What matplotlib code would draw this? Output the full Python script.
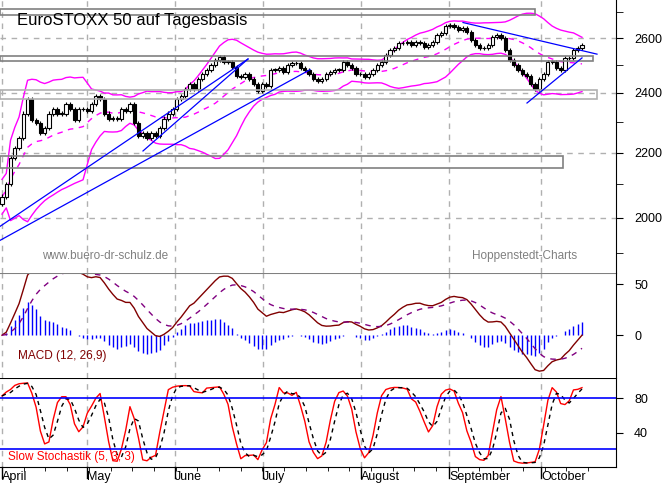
import numpy as np
import pandas as pd
import matplotlib
matplotlib.use("Agg")
import matplotlib.pyplot as plt
from matplotlib.ticker import FixedLocator, NullFormatter

plt.rcParams['font.family'] = ['Liberation Sans', 'DejaVu Sans']

closes = [2063, 2100, 2184, 2215, 2247, 2329, 2379, 2306, 2296, 2263, 2279, 2329, 2345, 2329, 2329,
          2362, 2345, 2306, 2345, 2345, 2339, 2362, 2389, 2379, 2329, 2312, 2312, 2312, 2345, 2339,
          2362, 2296, 2253, 2263, 2247, 2263, 2253, 2279, 2312, 2329, 2345, 2379, 2389, 2413, 2431,
          2413, 2448, 2466, 2483, 2501, 2519, 2530, 2512, 2512, 2494, 2459, 2455, 2466, 2448, 2431,
          2406, 2431, 2424, 2483, 2483, 2490, 2476, 2501, 2508, 2508, 2490, 2483, 2466, 2448, 2441,
          2448, 2466, 2476, 2483, 2483, 2512, 2501, 2490, 2466, 2466, 2455, 2466, 2483, 2501, 2512,
          2537, 2555, 2562, 2581, 2581, 2585, 2574, 2585, 2581, 2566, 2574, 2585, 2611, 2619, 2645,
          2649, 2642, 2630, 2638, 2623, 2592, 2574, 2562, 2562, 2574, 2604, 2611, 2600, 2555, 2519,
          2501, 2483, 2466, 2459, 2431, 2413, 2448, 2466, 2512, 2512, 2490, 2483, 2526, 2526, 2555,
          2562, 2574]
first_open = 2040
month_labels = ['April', 'May', 'June', 'July', 'August', 'September', 'October']
month_pix = [2, 87, 175, 263, 361, 449, 541]
price_ticks = [2000, 2200, 2400, 2600]
minor_price_ticks = [1900, 2100, 2300, 2500, 2700]
zones = [(2690, 2712, 535, '#808080'), (2515, 2533, 593, '#808080'),
         (2380, 2410, 597, '#b0b0b0'), (2150, 2190, 563, '#808080')]
trend_lines = [((0, 1975), (248, 2522)), ((143, 2205), (248, 2522)),
               ((0, 1935), (310, 2483)), ((463, 2660), (597, 2540)),
               ((527, 2365), (582, 2526))]

n = len(closes)
c = pd.Series(closes, dtype=float)
o = pd.Series([first_open] + closes[:-1], dtype=float)
hi_s = np.maximum(o, c) * 1.003
lo_s = np.minimum(o, c) * 0.997

W, H = 662, 486
fig = plt.figure(figsize=(W/100, H/100), dpi=100)
xr = 616
def rect(top, bot):
    return [0, 1 - bot/H, xr/W, (bot-top)/H]
ax = fig.add_axes(rect(0, 273))
am = fig.add_axes(rect(273, 378))
ast = fig.add_axes(rect(378, 467))

def figtext(x, y, s, **kw):
    fig.text(x / W, 1 - y / H, s, **kw)

dx = (582 - 2) / (n - 1)
def px2i(p):
    return (p - 2) / dx
xlim = (px2i(0), px2i(xr))
idx = np.arange(n)

# main
ax.set_yscale('log')
ax.set_ylim(1845, 2749)
ax.set_xlim(*xlim)
for i in idx:
    oo, cc = o[i], c[i]
    lo, hi = min(oo, cc), max(oo, cc)
    ax.vlines(i, lo_s[i], hi_s[i], color='black', lw=0.8, zorder=3)
    fc = 'white' if cc >= oo else 'black'
    ax.bar(i, max(hi - lo, 1), bottom=lo, width=0.75, facecolor=fc, edgecolor='black', lw=0.8, zorder=4)
ma = c.rolling(20, min_periods=1).mean()
sd = c.rolling(20, min_periods=2).std().bfill()
ax.plot(idx, ma, color='#ff00ff', lw=1, ls=(0, (4, 4)), zorder=2)
ax.plot(idx, ma + 2*sd, color='#ff00ff', lw=1, zorder=2)
ax.plot(idx, ma - 2*sd, color='#ff00ff', lw=1, zorder=2)
for lo, hi, right, col in zones:
    ax.add_patch(plt.Rectangle((xlim[0], lo), px2i(right) - xlim[0], hi - lo, fill=False, edgecolor=col, lw=1.2, zorder=5))
for (x0, y0), (x1, y1) in trend_lines:
    ax.plot([px2i(x0), px2i(x1)], [y0, y1], color='#0000ff', lw=0.9, zorder=5)
figtext(17, 21, 'EuroSTOXX 50 auf Tagesbasis', fontsize=12, va='center', ha='left')
figtext(42, 256, 'www.buero-dr-schulz.de', color='#808080', fontsize=8.5, va='center')
figtext(472, 256, 'Hoppenstedt-Charts', color='#808080', fontsize=8.5, va='center')
ax.yaxis.set_major_locator(FixedLocator(price_ticks))
ax.yaxis.set_minor_locator(FixedLocator(minor_price_ticks))
ax.yaxis.set_minor_formatter(NullFormatter())
ax.set_yticklabels([str(t) for t in price_ticks])

month_idx = [px2i(p) for p in month_pix]
for a in (ax, am, ast):
    for s in ('left', 'top', 'bottom'):
        a.spines[s].set_visible(False)
    a.yaxis.tick_right()
    a.tick_params(axis='y', which='both', direction='out', length=5, labelsize=9, pad=8)
    a.set_xlim(*xlim)
    a.set_xticks(month_idx)
    a.grid(axis='x', color='#b0b0b0', ls=(0, (4, 4)), lw=1)
ax.grid(axis='y', color='#b0b0b0', ls=(0, (4, 4)), lw=1)
ax.tick_params(axis='x', length=0, labelbottom=False)
am.tick_params(axis='x', length=0, labelbottom=False)

# MACD
e12 = c.ewm(span=12, adjust=False).mean()
e26 = c.ewm(span=26, adjust=False).mean()
macd = e12 - e26
sig = macd.ewm(span=9, adjust=False).mean()
am.vlines(idx, 0, macd - sig, color='#0000ff', lw=1)
am.plot(idx, macd, color='#800000', lw=1)
am.plot(idx, sig, color='#800080', lw=1, ls=(0, (4, 4)))
am.set_ylim(-42, 61)
am.set_yticks([0, 50])
am.axhline(61, color='#808080', lw=1.5)
figtext(18, 356, 'MACD (12, 26,9)', color='#800000', fontsize=8.5, va='center')

# Stochastic
hh = pd.Series(hi_s).rolling(5, min_periods=1).max()
ll = pd.Series(lo_s).rolling(5, min_periods=1).min()
k = 100 * (c - ll) / (hh - ll)
ks = k.rolling(3, min_periods=1).mean()
ds = ks.rolling(3, min_periods=1).mean()
ast.plot(idx, ks, color='#ff0000', lw=1)
ast.plot(idx, ds, color='black', lw=1, ls=(0, (3, 3)))
ast.axhline(80, color='#0000ff', lw=1.2)
ast.axhline(22, color='#0000ff', lw=1.2)
ast.axhline(103, color='black', lw=1.5)
ast.set_ylim(1, 103)
ast.set_yticks([40, 80])
figtext(8, 457, 'Slow Stochastik (5, 3, 3)', color='#ff0000', fontsize=8.5, va='center')
ast.spines['bottom'].set_visible(True)
ast.set_xticks(month_idx)
ast.set_xticklabels(month_labels, ha='left', fontsize=9)
ast.tick_params(axis='x', length=0, pad=3)
ast.set_xticks([px2i(p) for p in np.arange(2, 600, 21.7)], minor=True)
ast.tick_params(axis='x', which='minor', direction='out', length=3)
for t in month_idx:
    ast.plot([t, t], [-12, 1], color='black', lw=1, clip_on=False)

fig.savefig('out.png', dpi=100)
